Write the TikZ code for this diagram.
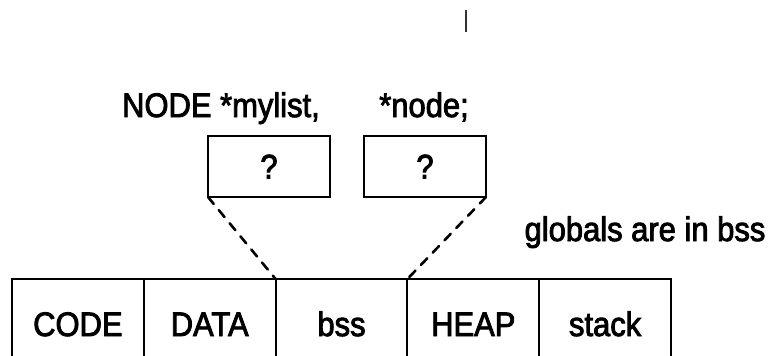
\documentclass[tikz,border=0pt]{standalone}
\usepackage{fontspec}
\setmainfont[FakeBold=2.5, FakeStretch=0.91]{Liberation Sans}
\usepackage{tikz}

\begin{document}
\begin{tikzpicture}[x=0.5pt, y=-0.5pt,
    every node/.style={font=\fontsize{17pt}{20pt}\selectfont, outer sep=0pt},
    cell/.style={draw, line width=1pt, minimum width=65.9pt, minimum height=45pt, text height=12pt, text depth=0pt},
    ptrbox/.style={draw, line width=1pt, minimum width=61pt, minimum height=30.5pt},
    link/.style={line width=1.3pt, dash pattern=on 4.5pt off 4pt, line cap=round}]
    \useasboundingbox (0,0) rectangle (780,355);
    \clip (0,0) rectangle (780,355);

    \draw[line width=0.75pt, black!80] (466,10) -- (466,32);

    \node[anchor=base] (decl) at (221,117) {NODE *mylist,};
    \node[anchor=base] (decl2) at (424,117) {*node;};
    \node[ptrbox] (mylist) at (269,166.5) {?};
    \node[ptrbox] (nodeptr) at (425,166.5) {?};

    \node[anchor=base] (note) at (645,241) {globals are in bss};

    \node[cell] (code) at (77.9,324) {CODE};
    \node[cell] (data) at (209.7,324) {DATA};
    \node[cell] (bss) at (341.5,324) {bss};
    \node[cell] (heap) at (473.3,324) {HEAP};
    \node[cell] (stack) at (605.1,324) {stack};

    \draw[link] (mylist.south west) -- (data.north east);
    \draw[link] (nodeptr.south east) -- (bss.north east);
\end{tikzpicture}
\end{document}
